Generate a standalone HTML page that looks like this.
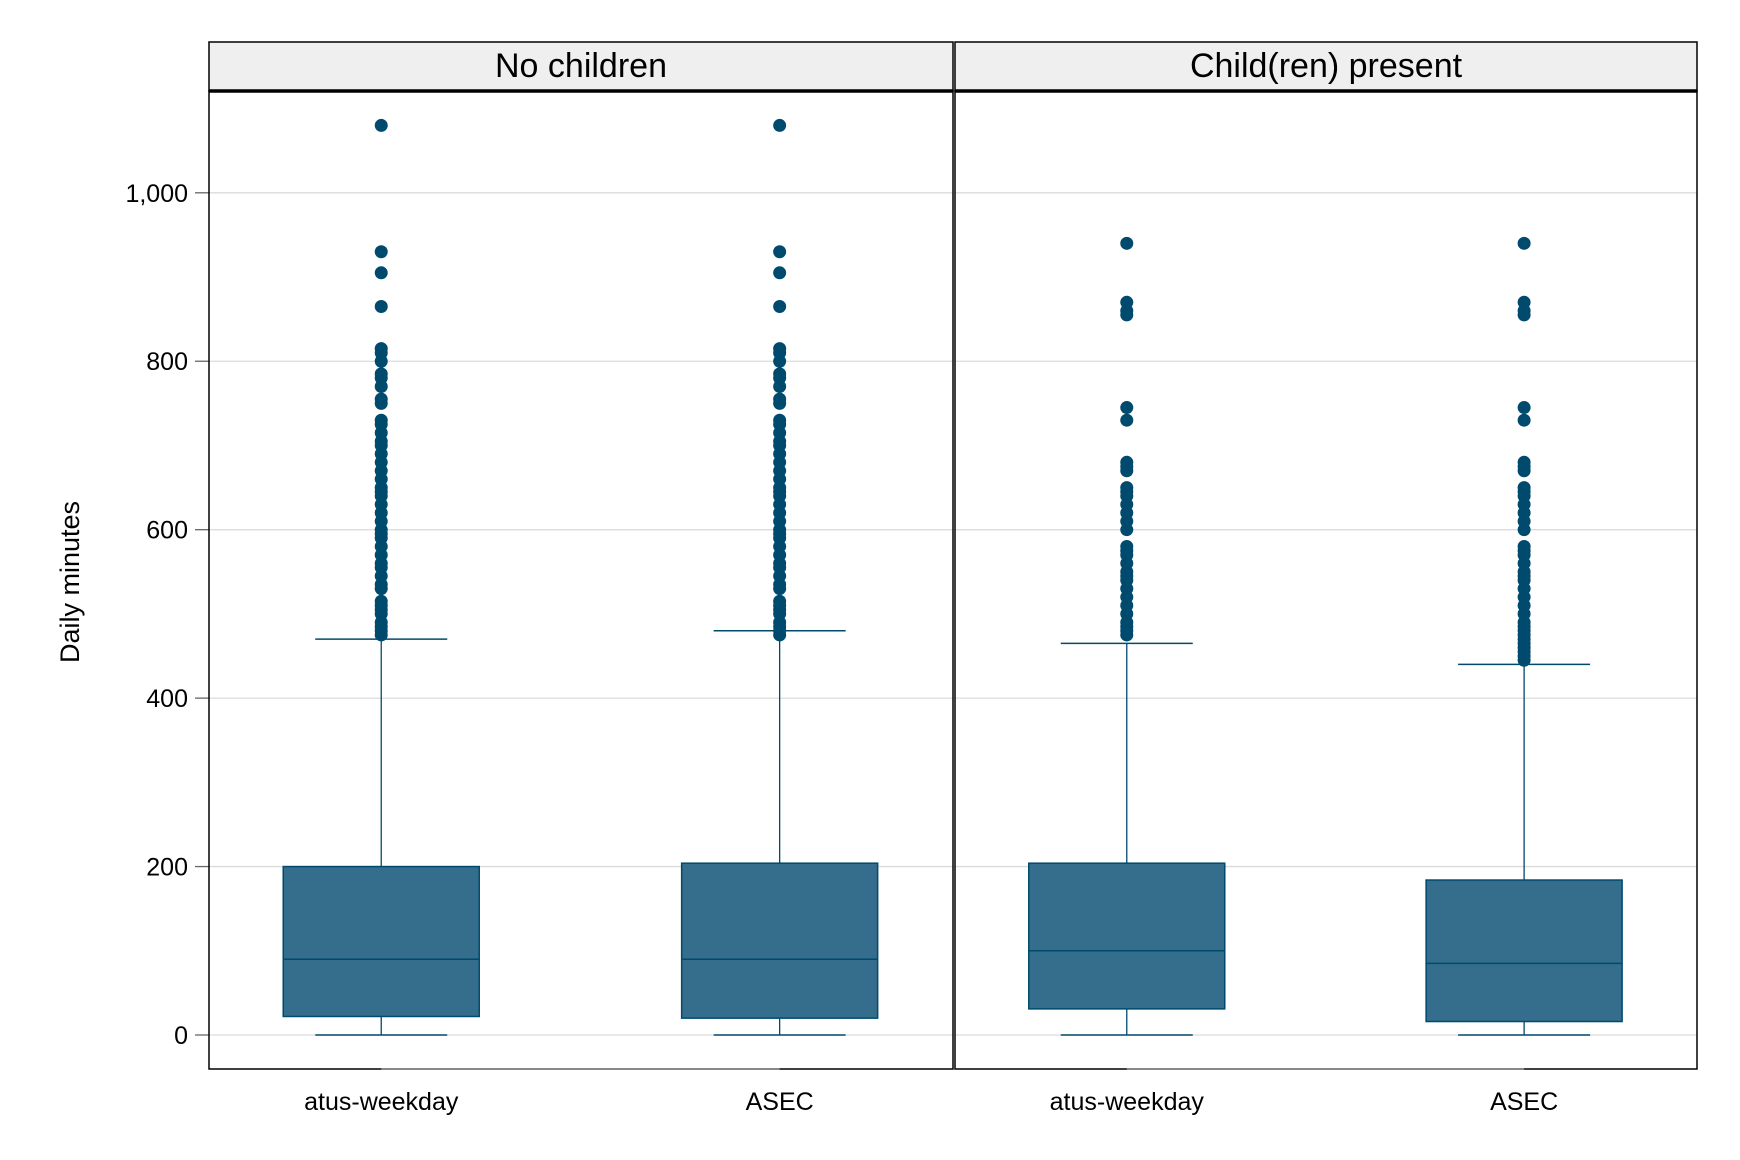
<!DOCTYPE html>
<html><head><meta charset="utf-8"><style>
html,body{margin:0;padding:0;background:#fff}
svg{display:block;font-family:"Liberation Sans",Arial,sans-serif}
</style></head><body>
<svg id="chart" width="1740" height="1160" viewBox="0 0 1740 1160" xmlns="http://www.w3.org/2000/svg">
<g id="grid"></g>
<g id="marks"></g>
<g id="axes"></g>
</svg>
<script>
const panels = ["No children", "Child(ren) present"];
const categories = ["atus-weekday", "ASEC"];
const yTicks = [0, 200, 400, 600, 800, 1000];
const yTickLabels = ["0", "200", "400", "600", "800", "1,000"];
// per box: [panel][category]
const whiskerLow = [[0, 0], [0, 0]];
const q1 = [[22, 20], [31, 16]];
const median = [[90, 90], [100, 85]];
const q3 = [[200, 204], [204, 184]];
const whiskerHigh = [[470, 480], [465, 440]];
const outliersNC = [1080, 930, 905, 865, 815, 810, 800, 785, 780, 770, 755, 750, 730, 725, 715, 705, 700, 690, 680, 670, 660, 650, 645, 640, 630, 620, 610, 600, 595, 590, 580, 570, 560, 555, 545, 535, 530, 515, 510, 505, 500, 490, 485, 480, 475];
const outliersChAtus = [940, 870, 860, 855, 745, 730, 680, 675, 670, 650, 645, 640, 630, 620, 610, 600, 580, 575, 570, 560, 550, 545, 540, 530, 520, 510, 500, 490, 485, 480, 475];
const outliersChAsec = [940, 870, 860, 855, 745, 730, 680, 675, 670, 650, 645, 640, 630, 620, 610, 600, 580, 575, 570, 560, 550, 545, 540, 530, 520, 510, 500, 490, 485, 480, 475, 470, 465, 460, 455, 450, 445];
const outliers = [[outliersNC, outliersNC], [outliersChAtus, outliersChAsec]];

const NS = "http://www.w3.org/2000/svg";
const panelX0 = [209, 955], panelX1 = [953, 1697];
const plotTop = 91, plotBottom = 1069, stripTop = 42;
function y(v){ return 1035 - v * 0.8422; }
function cx(p, c){ return panelX0[p] + (panelX1[p]-panelX0[p]) * (c === 0 ? 0.2315 : 0.767); }
function mk(tag, attrs, parent){
  const e = document.createElementNS(NS, tag);
  for (const k in attrs) e.setAttribute(k, attrs[k]);
  parent.appendChild(e); return e;
}
const grid = document.getElementById('grid'), marks = document.getElementById('marks'), axes = document.getElementById('axes');
const col = "#004a6e", fill = "#346e8c";

yTicks.forEach((t, i) => {
  for (let p = 0; p < 2; p++) {
    const gl = mk('line', {x1: panelX0[p], x2: panelX1[p], y1: y(t), y2: y(t), stroke: '#dcdcdc', 'stroke-width': 1.3}, grid);
    
    
  }
  const tk = mk('line', {x1: 195, x2: 209, y1: y(t), y2: y(t), stroke: '#666', 'stroke-width': 1.3}, axes);
  
  
  const tl = mk('text', {x: 188, y: y(t) + 9, 'text-anchor': 'end', 'font-size': 25, fill: '#000'}, axes);
  tl.textContent = yTickLabels[i];
  
  
});

for (let p = 0; p < 2; p++) {
  for (let c = 0; c < 2; c++) {
    const x = cx(p, c), hw = 98, cw = 66;
    const g = mk('g', {}, marks);
    
    
    mk('line', {x1: x, x2: x, y1: y(whiskerHigh[p][c]), y2: y(q3[p][c]), stroke: col, 'stroke-width': 1.3}, g);
    mk('line', {x1: x, x2: x, y1: y(q1[p][c]), y2: y(whiskerLow[p][c]), stroke: col, 'stroke-width': 1.3}, g);
    mk('line', {x1: x-cw, x2: x+cw, y1: y(whiskerHigh[p][c]), y2: y(whiskerHigh[p][c]), stroke: col, 'stroke-width': 1.5}, g);
    mk('line', {x1: x-cw, x2: x+cw, y1: y(whiskerLow[p][c]), y2: y(whiskerLow[p][c]), stroke: col, 'stroke-width': 1.5}, g);
    mk('rect', {x: x-hw, y: y(q3[p][c]), width: 2*hw, height: y(q1[p][c]) - y(q3[p][c]), fill: fill, stroke: col, 'stroke-width': 1.5}, g);
    mk('line', {x1: x-hw, x2: x+hw, y1: y(median[p][c]), y2: y(median[p][c]), stroke: col, 'stroke-width': 1.5}, g);
    outliers[p][c].forEach(v => {
      const d = mk('circle', {cx: x, cy: y(v), r: 6.5, fill: col}, g);
      
      
    });
    const xl = mk('text', {x: x, y: 1110, 'text-anchor': 'middle', 'font-size': 25, fill: '#000'}, axes);
    xl.textContent = categories[c];
    
    
  }
  const st = mk('rect', {x: panelX0[p], y: stripTop, width: panelX1[p]-panelX0[p], height: plotTop-stripTop, fill: '#efefef', stroke: '#000', 'stroke-width': 1.5}, axes);
  
  
  const sl = mk('text', {x: (panelX0[p]+panelX1[p])/2, y: 77, 'text-anchor': 'middle', 'font-size': 34, fill: '#000'}, axes);
  sl.textContent = panels[p];
  
  
  const fr = mk('rect', {x: panelX0[p], y: plotTop, width: panelX1[p]-panelX0[p], height: plotBottom-plotTop, fill: 'none', stroke: '#000', 'stroke-width': 1.5}, axes);
  
  
  const xa = mk('line', {x1: cx(p,0), x2: cx(p,1), y1: plotBottom, y2: plotBottom, stroke: '#888', 'stroke-width': 2}, axes);
  
  
  mk('line', {x1: panelX0[p], x2: panelX1[p], y1: plotTop, y2: plotTop, stroke: '#000', 'stroke-width': 3.5}, axes);
}
const yt = mk('text', {x: 0, y: 0, 'text-anchor': 'middle', 'font-size': 27, fill: '#000', transform: 'translate(79,582) rotate(-90)'}, axes);
yt.textContent = "Daily minutes";


</script>
</body></html>
